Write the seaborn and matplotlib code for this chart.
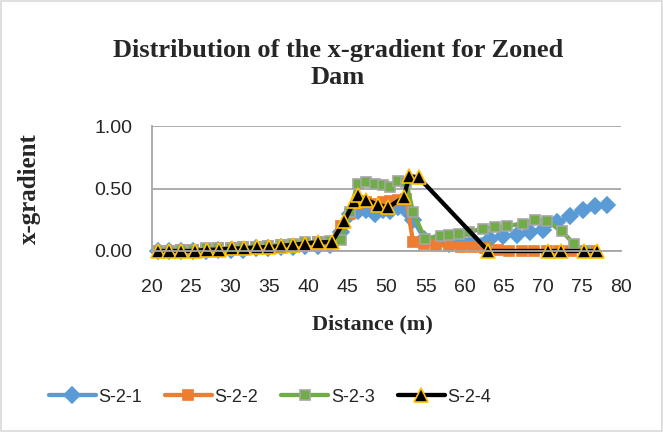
import matplotlib
matplotlib.use("Agg")
import matplotlib.pyplot as plt
import seaborn as sns
import pandas as pd
from matplotlib.patches import Rectangle
from matplotlib.lines import Line2D

# ---- data ----
x_s1 = [20.8, 22.2, 23.7, 25.3, 26.9, 28.5, 30.1, 31.7, 33.3, 34.9, 36.5, 38.0, 39.6, 41.2, 42.8,
        44.2, 45.3, 46.3, 47.4, 48.5, 49.5, 50.5, 51.5, 52.5, 53.4, 54.8, 56.3, 58.0, 59.5, 61.0,
        63.2, 64.9, 66.7, 68.3, 70.0, 71.8, 73.5, 75.1, 76.6, 78.2]
y_s1 = [0.00, 0.00, 0.00, 0.00, 0.00, 0.01, 0.01, 0.01, 0.02, 0.02, 0.03, 0.03, 0.04, 0.04, 0.05,
        0.15, 0.30, 0.32, 0.33, 0.30, 0.33, 0.32, 0.35, 0.33, 0.25, 0.10, 0.07, 0.06, 0.07, 0.08,
        0.10, 0.12, 0.13, 0.15, 0.17, 0.23, 0.28, 0.33, 0.36, 0.37]

x_s2 = [20.8, 22.2, 23.7, 25.3, 26.9, 28.5, 30.1, 31.7, 33.3, 34.9, 36.5, 38.0, 39.6, 41.2, 42.8,
        44.2, 45.3, 46.3, 47.4, 48.5, 49.5, 50.5, 51.5, 52.5, 53.4, 54.8, 56.3, 58.0, 59.5, 61.0,
        62.6, 64.2, 65.7, 67.3, 68.9, 70.5, 72.1, 73.6, 75.2, 76.3]
y_s2 = [0.00, 0.00, 0.01, 0.01, 0.01, 0.02, 0.02, 0.03, 0.03, 0.04, 0.05, 0.05, 0.06, 0.07, 0.07,
        0.20, 0.30, 0.38, 0.39, 0.38, 0.39, 0.40, 0.41, 0.42, 0.07, 0.06, 0.05, 0.04, 0.03, 0.03,
        0.02, 0.01, 0.00, 0.00, 0.00, 0.00, 0.00, 0.00, 0.00, 0.00]

x_s3 = [20.8, 22.2, 23.7, 25.3, 26.9, 28.5, 30.1, 31.7, 33.3, 34.9, 36.5, 38.0, 39.6, 41.2, 42.8,
        44.2, 45.3, 46.3, 47.4, 48.5, 49.5, 50.5, 51.5, 52.5, 53.4, 54.9, 56.9, 58.0, 59.3, 60.5,
        62.3, 63.9, 65.4, 67.4, 69.0, 70.5, 72.4, 73.9, 75.4]
y_s3 = [0.00, 0.00, 0.01, 0.01, 0.02, 0.02, 0.02, 0.03, 0.03, 0.04, 0.05, 0.06, 0.07, 0.07, 0.08,
        0.09, 0.31, 0.54, 0.55, 0.54, 0.53, 0.51, 0.56, 0.55, 0.31, 0.10, 0.12, 0.13, 0.14, 0.15,
        0.18, 0.19, 0.20, 0.22, 0.25, 0.24, 0.16, 0.06, 0.00]

x_s4 = [20.8, 22.2, 23.7, 25.5, 27.0, 28.6, 30.2, 31.8, 33.4, 35.0, 36.5, 38.0, 39.6, 41.2, 43.0,
        44.6, 45.9, 46.3, 47.4, 48.9, 50.2, 52.2, 52.9, 54.1, 63.0, 70.6, 72.3, 75.2, 76.9]
y_s4 = [0.00, 0.00, 0.00, 0.00, 0.01, 0.01, 0.02, 0.02, 0.03, 0.03, 0.04, 0.05, 0.06, 0.07, 0.07,
        0.24, 0.40, 0.45, 0.41, 0.37, 0.35, 0.43, 0.60, 0.59, 0.00, 0.00, 0.00, 0.00, 0.00]

series_names = ["S-2-1", "S-2-2", "S-2-3", "S-2-4"]
title_text = "Distribution of the x-gradient for Zoned\nDam"
x_ticks = [20, 25, 30, 35, 40, 45, 50, 55, 60, 65, 70, 75, 80]
y_ticks = [0.0, 0.5, 1.0]

# ---- styling ----
sns.set_theme(style="white")
plt.rcParams['font.family'] = ['Liberation Sans', 'DejaVu Sans']

fig = plt.figure(figsize=(6.63, 4.32), dpi=100)
ax = fig.add_axes([0.229, 0.419, 0.708, 0.289])

styles = [
    dict(color="#5B9BD5", marker="D", ms=8.5, mfc="#5B9BD5", mec="#5B9BD5"),
    dict(color="#ED7D31", marker="s", ms=7.5, mfc="#ED7D31", mec="#ED7D31"),
    dict(color="#70AD47", marker="s", ms=7.5, mfc="#70AD47", mec="#A5A5A5"),
    dict(color="#000000", marker="^", ms=10, mfc="#000000", mec="#FFC000"),
]
xs = [x_s1, x_s2, x_s3, x_s4]
ys = [y_s1, y_s2, y_s3, y_s4]

for name, x, y, st in zip(series_names, xs, ys, styles):
    df = pd.DataFrame({"x": x, "y": y})
    sns.lineplot(data=df, x="x", y="y", ax=ax, sort=False, estimator=None,
                 color=st["color"], linewidth=3.1, marker=st["marker"],
                 markersize=st["ms"], markerfacecolor=st["mfc"],
                 markeredgecolor=st["mec"], markeredgewidth=1.2, clip_on=False)

ax.set_xlim(20, 80)
ax.set_ylim(0, 1)
ax.set_xticks(x_ticks)
ax.set_xticklabels([str(t) for t in x_ticks], fontsize=14)
ax.set_yticks(y_ticks)
ax.set_yticklabels([f"{t:.2f}" for t in y_ticks], fontsize=14)

ax.grid(axis="y", color="#A6A6A6", linewidth=1.3)
ax.grid(axis="x", visible=False)
for s in ["top", "right"]:
    ax.spines[s].set_visible(False)
for s in ["left", "bottom"]:
    ax.spines[s].set_color("#A6A6A6")
    ax.spines[s].set_linewidth(1.3)
ax.tick_params(axis="x", direction="out", length=6, width=1.3, color="#A6A6A6", pad=14)
ax.tick_params(axis="y", length=0, pad=14)
ax.set_axisbelow(True)

ax.set_xlabel("Distance (m)", fontsize=16, fontweight="bold", family="Liberation Serif", va="center")
ax.xaxis.set_label_coords(0.469, -0.59)
ax.set_ylabel("x-gradient", fontsize=18, fontweight="bold", family="Liberation Serif", va="center")
ax.yaxis.set_label_coords(-0.26, 0.5)

fig.text(0.51, 0.852, title_text, ha="center", va="center", fontsize=19,
         fontweight="bold", family="Liberation Serif", linespacing=1.25)

handles = [Line2D([0], [0], color=st["color"], lw=3.1, marker=st["marker"], ms=st["ms"],
                  mfc=st["mfc"], mec=st["mec"], mew=1.2) for st in styles]
fig.legend(handles, series_names, loc="center", bbox_to_anchor=(0.407, 0.081), ncol=4,
           frameon=False, fontsize=13, handlelength=2.6, handletextpad=0.15,
           columnspacing=1.27)

fig.patches.append(Rectangle((0.002, 0.002), 0.996, 0.996, transform=fig.transFigure,
                             fill=False, edgecolor="#D9D9D9", linewidth=1.2))

fig.savefig("out.png", dpi=100)
